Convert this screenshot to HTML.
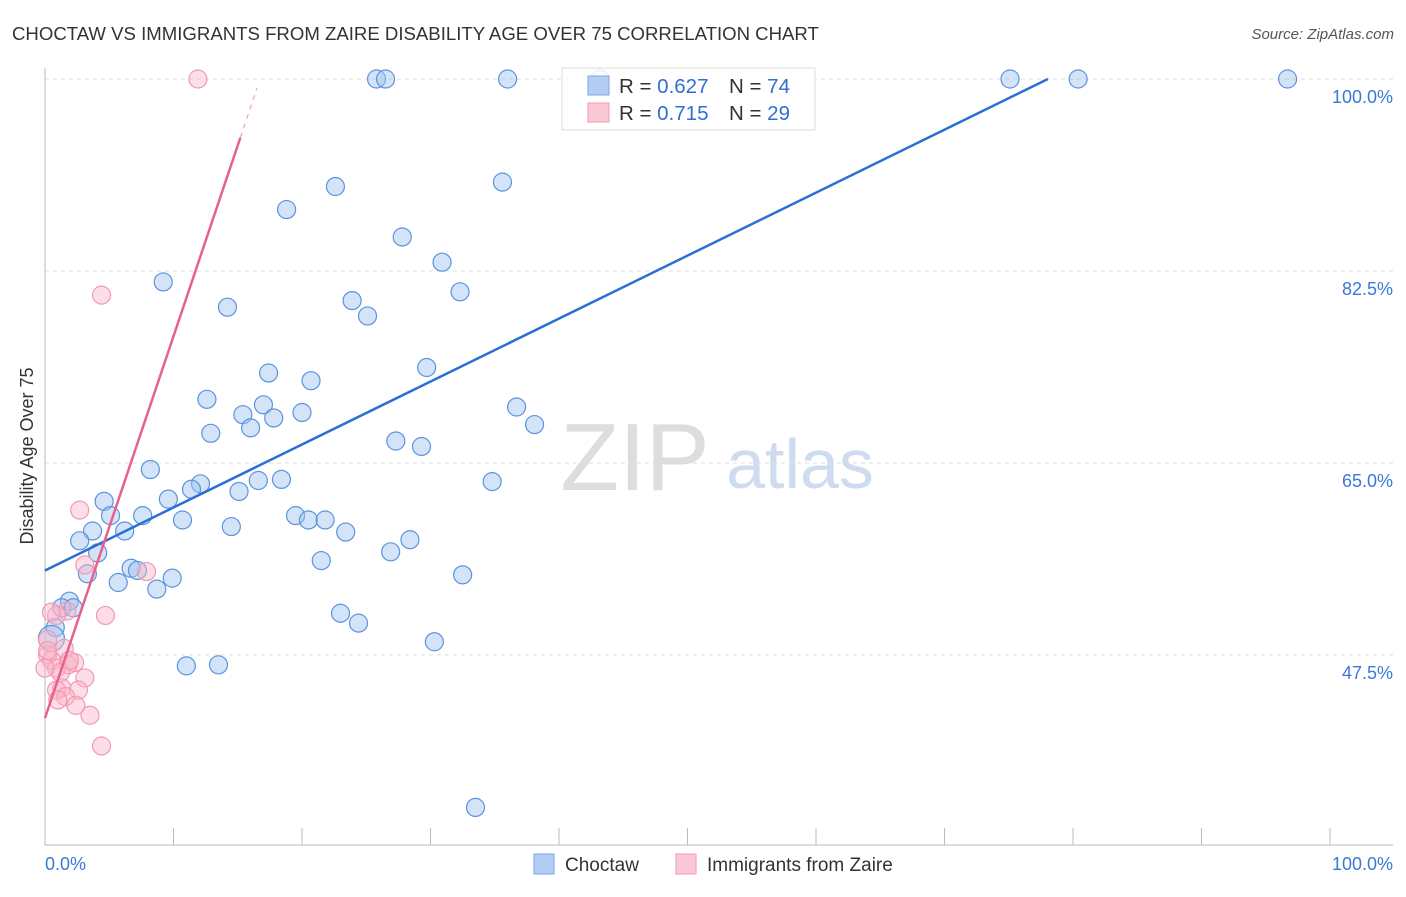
<!DOCTYPE html>
<html><head><meta charset="utf-8"><style>
body{margin:0;background:#fff;font-family:"Liberation Sans",sans-serif;}
svg text{font-family:"Liberation Sans",sans-serif;}
</style></head><body>
<svg id="chart" width="1406" height="892" xmlns="http://www.w3.org/2000/svg">
<text x="12" y="40" font-size="18.6" fill="#333">CHOCTAW VS IMMIGRANTS FROM ZAIRE DISABILITY AGE OVER 75 CORRELATION CHART</text>
<text x="1394" y="39" font-size="15" fill="#555" font-style="italic" text-anchor="end">Source: ZipAtlas.com</text>
<text x="33" y="456" font-size="18" fill="#333" text-anchor="middle" transform="rotate(-90 33 456)">Disability Age Over 75</text>
<g><text x="635" y="490" font-size="96" fill="#ddd" text-anchor="middle" font-family="Liberation Serif">ZIP</text><text x="800" y="488" font-size="70" fill="#cfdcef" text-anchor="middle">atlas</text></g>
<g id="grid"></g><g id="marks"></g>
<g>
<rect x="562" y="68" width="253" height="62" fill="#fff" fill-opacity="0.85" stroke="#ddd"/>
<rect x="588" y="76" width="21" height="19" fill="#b3cdf3" stroke="#7aa6e6"/>
<rect x="588" y="103" width="21" height="19" fill="#fbc8d6" stroke="#f09ab4"/>
<text x="619" y="93" font-size="20.5" fill="#333">R = <tspan fill="#2f6fd1">0.627</tspan></text>
<text x="729" y="93" font-size="20.5" fill="#333">N = <tspan fill="#2f6fd1">74</tspan></text>
<text x="619" y="120" font-size="20.5" fill="#333">R =  <tspan fill="#2f6fd1">0.715</tspan></text>
<text x="729" y="120" font-size="20.5" fill="#333">N = <tspan fill="#2f6fd1">29</tspan></text>
</g>
<g>
<rect x="534" y="854" width="20" height="20" fill="#b3cdf3" stroke="#7aa6e6"/>
<text x="565" y="871" font-size="19" fill="#333">Choctaw</text>
<rect x="676" y="854" width="20" height="20" fill="#fbc8d6" stroke="#f09ab4"/>
<text x="707" y="871" font-size="19" fill="#333">Immigrants from Zaire</text>
</g>
</svg>
<script>
const yTicks=[100,82.5,65,47.5];
const yTickLabels=["100.0%","82.5%","65.0%","47.5%"];
const blueX=[25.8,26.5,36.0,43.2,75.1,80.4,96.7,22.6,35.6,18.8,27.8,30.9,9.2,32.3,23.9,14.2,25.1,29.7,17.4,20.7,12.6,17.0,36.7,15.4,20.0,17.8,38.1,16.0,12.9,27.3,29.3,8.2,18.4,16.6,12.1,11.4,34.8,15.1,4.6,9.6,5.1,7.6,19.5,20.5,21.8,10.7,14.5,3.7,6.2,23.4,2.7,28.4,4.1,26.9,21.5,3.3,6.7,7.2,9.9,32.5,5.7,8.7,1.9,1.3,2.2,23.0,24.4,0.8,0.5,30.3,11.0,13.5,33.5];
const blueY=[100,100,100,100,100,100,100,90.2,90.6,88.1,85.6,83.3,81.5,80.6,79.8,79.2,78.4,73.7,73.2,72.5,70.8,70.3,70.1,69.4,69.6,69.1,68.5,68.2,67.7,67.0,66.5,64.4,63.5,63.4,63.1,62.6,63.3,62.4,61.5,61.7,60.2,60.2,60.2,59.8,59.8,59.8,59.2,58.8,58.8,58.7,57.9,58.0,56.8,56.9,56.1,54.9,55.4,55.2,54.5,54.8,54.1,53.5,52.4,51.8,51.8,51.3,50.4,50.0,49.0,48.7,46.5,46.6,33.6];
const pinkX=[11.9,4.4,2.7,3.1,7.9,4.7,1.7,0.9,0.2,1.5,0.2,0.5,2.3,1.8,0.9,1.2,0,1.3,3.1,2.6,0.9,1.6,2.4,3.5,4.4,0.2,1.9,1.0,0.5];
const pinkY=[100,80.3,60.7,55.7,55.1,51.1,51.5,51.1,48.9,48.1,47.5,47.0,46.8,46.6,46.3,45.9,46.3,44.5,45.4,44.3,44.3,43.7,42.9,42.0,39.2,47.9,47.0,43.4,51.4];
const blueLine=[55.2,0.574];
const pinkLine=[41.75,3.48];
const NS="http://www.w3.org/2000/svg";
const sx=v=>45+v*12.85, sy=v=>79+(100-v)*10.97;
function mk(tag,attrs,parent){const e=document.createElementNS(NS,tag);for(const k in attrs)e.setAttribute(k,attrs[k]);parent.appendChild(e);return e;}
const grid=document.getElementById('grid'),marks=document.getElementById('marks');
yTicks.forEach((t,i)=>{
 const l=mk('line',{x1:45,x2:1393,y1:sy(t),y2:sy(t),stroke:'#ddd','stroke-dasharray':'4,4'},grid);
 
 
 const tx=mk('text',{x:1393,y:sy(t)+24,'font-size':18,fill:'#3b78d8','text-anchor':'end'},grid);
 tx.textContent=yTickLabels[i];
 
 
});
const ax=mk('path',{d:'M45 68V845H1393',stroke:'#bbb',fill:'none'},grid);


for(let i=0;i<=10;i++){const t=mk('line',{x1:sx(i*10),x2:sx(i*10),y1:828,y2:845,stroke:'#bbb'},grid);
 
 }
[["0.0%",45,'start'],["100.0%",1393,'end']].forEach(a=>{const t=mk('text',{x:a[1],y:870,'font-size':18,fill:'#3b78d8','text-anchor':a[2]},grid);t.textContent=a[0];
 
 });
blueX.forEach((x,i)=>{const c=mk('circle',{cx:sx(x),cy:sy(blueY[i]),r:(i==68?13:9),fill:'rgba(160,195,240,0.45)',stroke:'#5b93df','stroke-width':1.2},marks);
 
 });
pinkX.forEach((x,i)=>{const c=mk('circle',{cx:sx(x),cy:sy(pinkY[i]),r:9,fill:'rgba(250,180,200,0.45)',stroke:'#f19ab5','stroke-width':1.2},marks);
 
 });
const bx2=(100-blueLine[0])/blueLine[1];
const bl=mk('line',{x1:sx(0),y1:sy(blueLine[0]),x2:sx(bx2),y2:sy(100),stroke:'#2b6fd6','stroke-width':2.5},marks);


const pl=mk('line',{x1:sx(0),y1:sy(pinkLine[0]),x2:sx(15.2),y2:sy(pinkLine[0]+pinkLine[1]*15.2),stroke:'#e8608c','stroke-width':2.5},marks);


const pd=mk('line',{x1:sx(15.2),y1:sy(pinkLine[0]+pinkLine[1]*15.2),x2:sx(16.5),y2:sy(pinkLine[0]+pinkLine[1]*16.5),stroke:'#f0a0ba','stroke-width':1.2,'stroke-dasharray':'5,5'},marks);


</script>
</body></html>
